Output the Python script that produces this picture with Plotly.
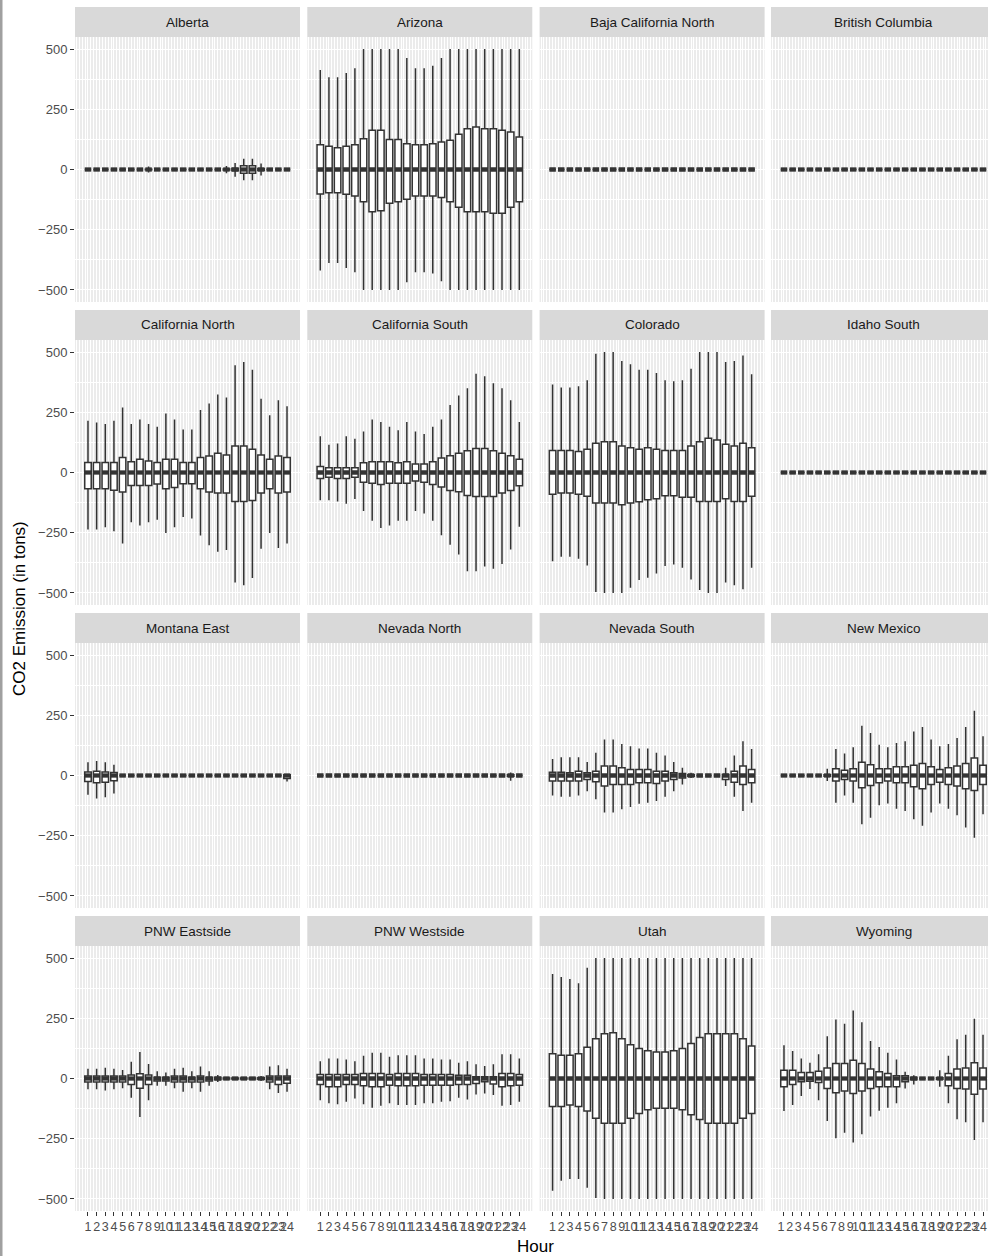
import plotly.graph_objects as go

W, H = 988, 1256

HOURS = list(range(1, 25))
HOUR_LABELS = [str(h) for h in HOURS]
Y_TICKS = [-500, -250, 0, 250, 500]
Y_TICK_LABELS = ["\u2212500", "\u2212250", "0", "250", "500"]

REGIONS = ["Alberta", "Arizona", "Baja California North", "British Columbia",
           "California North", "California South", "Colorado", "Idaho South",
           "Montana East", "Nevada North", "Nevada South", "New Mexico",
           "PNW Eastside", "PNW Westside", "Utah", "Wyoming"]

ZERO = [0, 0, 0, 0, 0, 0, 0, 0, 0, 0, 0, 0, 0, 0, 0, 0, 0, 0, 0, 0, 0, 0, 0, 0]
MEDIAN = [0, 0, 0, 0, 0, 0, 0, 0, 0, 0, 0, 0, 0, 0, 0, 0, 0, 0, 0, 0, 0, 0, 0, 0]

# Alberta
AB_HI = [0, 0, 0, 0, 0, 0, 0, 12, 0, 0, 0, 0, 0, 0, 0, 0, 15, 27, 45, 45, 25, 0, 0, 0]
AB_Q3 = [0, 0, 0, 0, 0, 0, 0, 1, 0, 0, 0, 0, 0, 0, 0, 0, 2, 5, 16, 16, 4, 0, 0, 0]
AB_Q1 = [0, 0, 0, 0, 0, 0, 0, -1, 0, 0, 0, 0, 0, 0, 0, 0, -2, -5, -16, -16, -4, 0, 0, 0]
AB_LO = [0, 0, 0, 0, 0, 0, 0, -12, 0, 0, 0, 0, 0, 0, 0, 0, -16, -30, -45, -45, -25, 0, 0, 0]
# Arizona
AZ_HI = [413, 383, 383, 401, 420, 500, 500, 500, 500, 500, 463, 420, 420, 431, 463, 500, 500, 500, 500, 500, 500, 500, 500, 500]
AZ_Q3 = [103, 96, 90, 96, 103, 128, 163, 163, 125, 125, 107, 103, 103, 107, 114, 121, 146, 169, 176, 169, 169, 163, 156, 135]
AZ_Q1 = [-102, -96, -96, -103, -110, -134, -175, -171, -140, -134, -123, -110, -110, -110, -116, -134, -157, -175, -175, -175, -182, -182, -157, -134]
AZ_LO = [-419, -388, -388, -409, -427, -500, -500, -500, -500, -500, -468, -427, -427, -432, -464, -500, -500, -500, -500, -500, -500, -500, -500, -500]
# California North
CAN_HI = [215, 208, 201, 215, 270, 201, 220, 201, 190, 245, 220, 179, 179, 259, 286, 324, 311, 445, 459, 427, 306, 238, 300, 275]
CAN_Q3 = [41, 41, 41, 41, 62, 45, 55, 48, 41, 55, 55, 41, 41, 62, 69, 80, 73, 110, 110, 96, 73, 55, 69, 62]
CAN_Q1 = [-67, -67, -67, -74, -81, -54, -54, -54, -48, -67, -62, -47, -47, -67, -81, -85, -85, -120, -120, -116, -85, -67, -85, -81]
CAN_LO = [-237, -237, -227, -244, -295, -207, -220, -207, -196, -251, -227, -185, -191, -262, -302, -329, -322, -457, -468, -438, -317, -251, -313, -295]
# California South
CAS_HI = [150, 115, 120, 150, 140, 170, 220, 210, 190, 175, 210, 170, 160, 190, 220, 280, 320, 350, 410, 400, 370, 350, 300, 210]
CAS_Q3 = [25, 20, 20, 20, 20, 40, 45, 45, 45, 40, 45, 35, 35, 45, 60, 70, 80, 90, 100, 100, 90, 80, 70, 55]
CAS_Q1 = [-25, -20, -25, -25, -20, -40, -45, -50, -45, -45, -45, -35, -40, -50, -60, -75, -80, -95, -100, -100, -100, -85, -75, -55]
CAS_LO = [-115, -115, -120, -130, -110, -160, -200, -230, -220, -200, -200, -160, -170, -200, -260, -300, -340, -410, -410, -390, -400, -380, -320, -225]
# Colorado
CO_HI = [365, 353, 353, 358, 383, 493, 500, 500, 463, 449, 427, 427, 413, 383, 379, 383, 431, 500, 500, 500, 459, 463, 486, 408]
CO_Q3 = [91, 91, 91, 87, 96, 121, 128, 128, 110, 103, 96, 103, 96, 91, 91, 91, 110, 128, 142, 135, 117, 110, 121, 103]
CO_Q1 = [-90, -85, -85, -90, -99, -127, -127, -127, -134, -127, -121, -113, -109, -96, -96, -103, -103, -120, -120, -120, -109, -120, -120, -99]
CO_LO = [-368, -350, -350, -358, -386, -496, -500, -500, -500, -478, -446, -437, -419, -388, -382, -395, -444, -488, -500, -500, -457, -468, -485, -395]
# Montana East
MTE_HI = [55, 60, 55, 45, 0, 0, 0, 0, 0, 0, 0, 0, 0, 0, 0, 0, 0, 0, 0, 0, 0, 0, 0, 5]
MTE_Q3 = [15, 18, 15, 12, 0, 0, 0, 0, 0, 0, 0, 0, 0, 0, 0, 0, 0, 0, 0, 0, 0, 0, 0, 3]
MTE_Q1 = [-25, -30, -28, -22, 0, 0, 0, 0, 0, 0, 0, 0, 0, 0, 0, 0, 0, 0, 0, 0, 0, 0, 0, -12]
MTE_LO = [-80, -95, -90, -75, 0, 0, 0, 0, 0, 0, 0, 0, 0, 0, 0, 0, 0, 0, 0, 0, 0, 0, 0, -25]
# Nevada North
NVN_HI = [0, 0, 0, 0, 0, 0, 0, 0, 0, 0, 0, 0, 0, 0, 0, 0, 0, 0, 0, 0, 0, 0, 12, 0]
NVN_Q3 = [0, 0, 0, 0, 0, 0, 0, 0, 0, 0, 0, 0, 0, 0, 0, 0, 0, 0, 0, 0, 0, 0, 3, 0]
NVN_Q1 = [0, 0, 0, 0, 0, 0, 0, 0, 0, 0, 0, 0, 0, 0, 0, 0, 0, 0, 0, 0, 0, 0, -3, 0]
NVN_LO = [0, 0, 0, 0, 0, 0, 0, 0, 0, 0, 0, 0, 0, 0, 0, 0, 0, 0, 0, 0, 0, 0, -22, 0]
# Nevada South
NVS_HI = [69, 76, 76, 76, 56, 94, 149, 149, 131, 121, 112, 112, 94, 83, 56, 32, 11, 0, 0, 0, 32, 83, 142, 110]
NVS_Q3 = [14, 14, 11, 18, 11, 18, 39, 39, 32, 25, 25, 25, 18, 18, 11, 8, 3, 0, 0, 0, 4, 18, 39, 25]
NVS_Q1 = [-23, -23, -23, -23, -17, -26, -44, -37, -37, -37, -30, -30, -33, -23, -17, -10, -3, 0, 0, 0, -17, -28, -37, -30]
NVS_LO = [-83, -88, -88, -83, -65, -99, -154, -154, -140, -131, -117, -113, -106, -88, -65, -37, -10, 0, 0, 0, -44, -88, -147, -113]
# New Mexico
NM_HI = [0, 0, 0, 0, 0, 28, 110, 91, 117, 207, 176, 128, 117, 135, 142, 183, 201, 149, 121, 131, 156, 201, 269, 163]
NM_Q3 = [0, 0, 0, 0, 0, 3, 28, 22, 28, 55, 45, 28, 28, 36, 36, 43, 50, 36, 25, 32, 39, 50, 73, 43]
NM_Q1 = [0, 0, 0, 0, 0, -3, -23, -17, -23, -51, -41, -30, -23, -30, -30, -47, -55, -37, -28, -37, -44, -55, -62, -37]
NM_LO = [0, 0, 0, 0, 0, -23, -113, -83, -113, -202, -175, -124, -116, -138, -147, -182, -209, -154, -116, -138, -165, -216, -258, -161]
# PNW Eastside
PNWE_HI = [40, 40, 45, 40, 35, 70, 110, 60, 30, 25, 40, 45, 30, 50, 30, 15, 5, 5, 5, 5, 10, 50, 55, 40]
PNWE_Q3 = [10, 10, 10, 10, 10, 15, 20, 15, 5, 5, 10, 10, 5, 10, 5, 5, 2, 2, 2, 2, 3, 10, 10, 10]
PNWE_Q1 = [-15, -15, -15, -15, -15, -25, -40, -25, -10, -10, -15, -15, -15, -15, -10, -5, -2, -2, -2, -2, -3, -15, -25, -20]
PNWE_LO = [-45, -45, -50, -45, -40, -80, -160, -90, -30, -30, -40, -55, -40, -55, -30, -15, -5, -5, -5, -5, -10, -45, -60, -55]
# PNW Westside
PNWW_HI = [72, 83, 83, 79, 72, 94, 107, 107, 90, 96, 96, 96, 83, 83, 79, 79, 65, 72, 59, 52, 59, 101, 101, 83]
PNWW_Q3 = [17, 17, 17, 17, 17, 21, 21, 21, 17, 21, 21, 21, 17, 17, 17, 17, 14, 14, 7, 7, 7, 21, 21, 17]
PNWW_Q1 = [-25, -34, -34, -25, -25, -30, -34, -34, -28, -30, -30, -30, -28, -28, -28, -28, -25, -25, -21, -14, -23, -34, -30, -28]
PNWW_LO = [-90, -103, -107, -96, -83, -107, -121, -113, -103, -110, -110, -110, -103, -103, -96, -94, -80, -87, -66, -62, -69, -113, -110, -96]
# Utah
UT_HI = [434, 421, 413, 395, 460, 500, 500, 500, 500, 500, 500, 500, 500, 500, 500, 500, 500, 500, 500, 500, 500, 500, 500, 500]
UT_Q3 = [103, 97, 97, 103, 130, 165, 186, 190, 165, 140, 125, 115, 110, 110, 115, 125, 145, 170, 186, 186, 186, 186, 165, 135]
UT_Q1 = [-116, -116, -110, -116, -135, -165, -186, -186, -186, -165, -145, -130, -124, -124, -124, -130, -150, -170, -186, -186, -186, -186, -165, -145]
UT_LO = [-466, -424, -417, -417, -454, -496, -500, -500, -500, -500, -500, -500, -500, -500, -500, -500, -500, -500, -500, -500, -500, -500, -500, -500]
# Wyoming
WY_HI = [138, 114, 83, 65, 101, 175, 245, 227, 282, 234, 156, 131, 107, 79, 28, 14, 0, 0, 34, 94, 163, 182, 248, 182]
WY_Q3 = [34, 34, 25, 25, 30, 44, 62, 62, 76, 62, 39, 28, 21, 11, 11, 5, 0, 0, 3, 21, 39, 44, 65, 44]
WY_Q1 = [-34, -25, -14, -11, -17, -41, -59, -52, -62, -52, -41, -34, -34, -34, -14, -5, 0, 0, -3, -30, -41, -44, -65, -44]
WY_LO = [-135, -110, -73, -44, -90, -176, -248, -225, -266, -231, -158, -134, -121, -103, -41, -25, 0, 0, -34, -103, -169, -182, -255, -182]

STATS = {
    "Alberta": (AB_LO, AB_Q1, AB_Q3, AB_HI),
    "Arizona": (AZ_LO, AZ_Q1, AZ_Q3, AZ_HI),
    "Baja California North": (ZERO, ZERO, ZERO, ZERO),
    "British Columbia": (ZERO, ZERO, ZERO, ZERO),
    "California North": (CAN_LO, CAN_Q1, CAN_Q3, CAN_HI),
    "California South": (CAS_LO, CAS_Q1, CAS_Q3, CAS_HI),
    "Colorado": (CO_LO, CO_Q1, CO_Q3, CO_HI),
    "Idaho South": (ZERO, ZERO, ZERO, ZERO),
    "Montana East": (MTE_LO, MTE_Q1, MTE_Q3, MTE_HI),
    "Nevada North": (NVN_LO, NVN_Q1, NVN_Q3, NVN_HI),
    "Nevada South": (NVS_LO, NVS_Q1, NVS_Q3, NVS_HI),
    "New Mexico": (NM_LO, NM_Q1, NM_Q3, NM_HI),
    "PNW Eastside": (PNWE_LO, PNWE_Q1, PNWE_Q3, PNWE_HI),
    "PNW Westside": (PNWW_LO, PNWW_Q1, PNWW_Q3, PNWW_HI),
    "Utah": (UT_LO, UT_Q1, UT_Q3, UT_HI),
    "Wyoming": (WY_LO, WY_Q1, WY_Q3, WY_HI),
}

# ---- geometry (pixels) ----
COL_LEFT = [75.0, 307.3, 539.6, 771.0]
PANEL_W = 225.0
ROW_TOP = [7.0, 310.0, 613.0, 916.0]
STRIP_H = 30.0
PANEL_H = 265.0
X_RANGE = [-0.5, 25.5]
Y_RANGE = [-550, 550]
BOX_W = 0.75

FONT = "Liberation Sans, Arial, sans-serif"
LINE_COL = "#333333"

fig = go.Figure()
layout = dict(
    width=W, height=H, margin=dict(l=0, r=0, t=0, b=0),
    paper_bgcolor="white", plot_bgcolor="#EBEBEB", showlegend=False,
    font=dict(family=FONT),
)
shapes = []
annotations = []

for i, region in enumerate(REGIONS):
    r, c = divmod(i, 4)
    n = i + 1
    xa = "x" if n == 1 else f"x{n}"
    ya = "y" if n == 1 else f"y{n}"
    lo, q1, q3, hi = STATS[region]

    fig.add_trace(go.Box(
        x=HOURS, q1=q1, median=MEDIAN, q3=q3, lowerfence=lo, upperfence=hi,
        width=BOX_W, whiskerwidth=0, boxpoints=False,
        fillcolor="white", line=dict(color=LINE_COL, width=1.5),
        xaxis=xa, yaxis=ya, hoverinfo="skip",
    ))
    mx, my = [], []
    for h, m in zip(HOURS, MEDIAN):
        mx += [h - BOX_W / 2, h + BOX_W / 2, None]
        my += [m, m, None]
    fig.add_trace(go.Scatter(
        x=mx, y=my, mode="lines", line=dict(color=LINE_COL, width=4.3),
        xaxis=xa, yaxis=ya, hoverinfo="skip",
    ))

    left = COL_LEFT[c]
    right = min(left + PANEL_W, W)
    xr = [X_RANGE[0], X_RANGE[0] + (right - left) / PANEL_W * (X_RANGE[1] - X_RANGE[0])]
    ptop = ROW_TOP[r] + STRIP_H
    pbot = ptop + PANEL_H

    layout["xaxis" if n == 1 else f"xaxis{n}"] = dict(
        domain=[left / W, right / W], anchor=ya, range=xr,
        tickmode="array", tickvals=HOURS, ticktext=HOUR_LABELS,
        showticklabels=(r == 3), ticks="outside" if r == 3 else "",
        ticklen=4, tickwidth=1.2, tickcolor=LINE_COL, tickangle=0,
        ticklabelshift=(-3 if c == 3 else 0),
        tickfont=dict(size=12.5, color="#4D4D4D", family=FONT),
        showgrid=True, gridcolor="white", gridwidth=1,
        minor=dict(tickmode="linear", tick0=0, dtick=1 / 3, showgrid=True,
                   gridcolor="white", gridwidth=0.6, ticks=""),
        zeroline=False, showline=False, fixedrange=True,
    )
    layout["yaxis" if n == 1 else f"yaxis{n}"] = dict(
        domain=[1 - pbot / H, 1 - ptop / H], anchor=xa, range=Y_RANGE,
        tickmode="array", tickvals=Y_TICKS, ticktext=Y_TICK_LABELS,
        showticklabels=(c == 0), ticks="outside" if c == 0 else "",
        ticklen=4, tickwidth=1.2, tickcolor=LINE_COL,
        tickfont=dict(size=13, color="#4D4D4D", family=FONT),
        showgrid=True, gridcolor="white", gridwidth=1.1,
        minor=dict(tickmode="linear", tick0=125, dtick=250, showgrid=True,
                   gridcolor="white", gridwidth=0.6, ticks=""),
        zeroline=False, showline=False, fixedrange=True,
    )

    shapes.append(dict(
        type="rect", xref="paper", yref="paper", layer="below",
        x0=left / W, x1=right / W, y0=1 - ptop / H, y1=1 - ROW_TOP[r] / H,
        fillcolor="#D9D9D9", line=dict(width=0),
    ))
    annotations.append(dict(
        text=region, xref="paper", yref="paper",
        x=(left + PANEL_W / 2) / W, y=1 - (ROW_TOP[r] + STRIP_H / 2) / H,
        xanchor="center", yanchor="middle", showarrow=False,
        font=dict(size=13.5, color="#1A1A1A", family=FONT),
    ))

annotations.append(dict(
    text="Hour", xref="paper", yref="paper", x=((COL_LEFT[0] + COL_LEFT[3] + PANEL_W) / 2) / W,
    y=1 - 1246 / H, xanchor="center", yanchor="middle", showarrow=False,
    font=dict(size=17, color="black", family=FONT),
))
annotations.append(dict(
    text="CO2 Emission (in tons)", xref="paper", yref="paper", x=19 / W,
    y=1 - ((ROW_TOP[0] + ROW_TOP[3] + STRIP_H + PANEL_H) / 2) / H,
    xanchor="center", yanchor="middle", showarrow=False, textangle=-90,
    font=dict(size=17, color="black", family=FONT),
))
shapes.append(dict(
    type="rect", xref="paper", yref="paper", x0=0, x1=2.5 / W, y0=0, y1=1,
    fillcolor="#A0A0A0", line=dict(width=0),
))

layout["shapes"] = shapes
layout["annotations"] = annotations
fig.update_layout(**layout)
fig.write_html(
    "out.html",
    config={"displayModeBar": False},
    post_script="document.body.style.margin='0';document.body.style.overflow='hidden';",
)
